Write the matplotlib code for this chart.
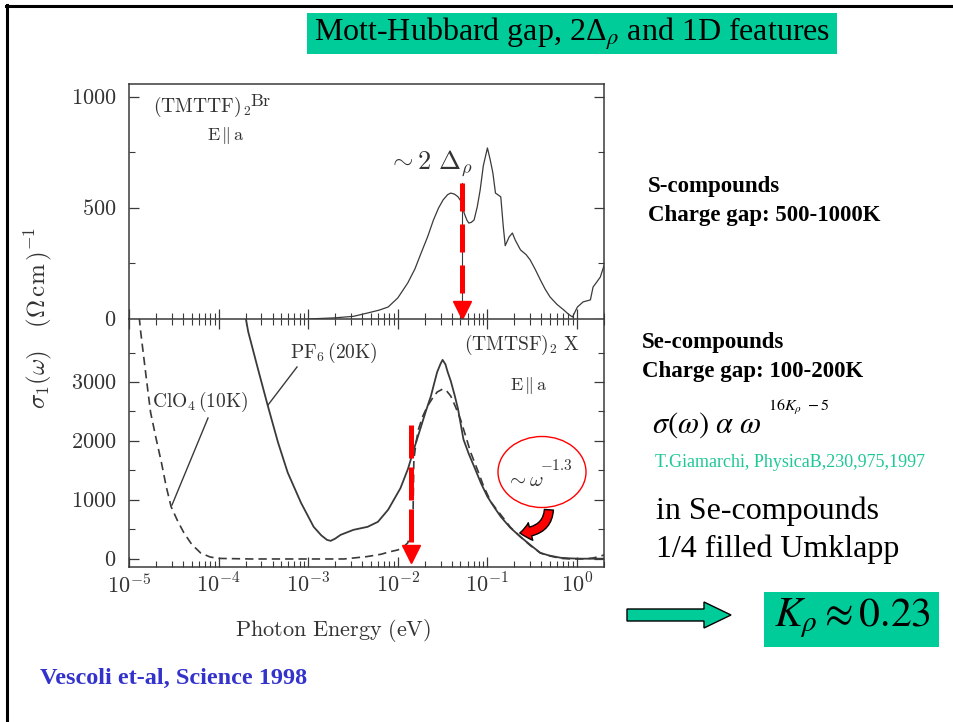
import math

import matplotlib
matplotlib.use("Agg")
import matplotlib.pyplot as plt
from matplotlib.lines import Line2D
from matplotlib.patches import Rectangle, Ellipse, Polygon, FancyArrowPatch
from matplotlib.ticker import (LogLocator, FixedLocator, MultipleLocator, FuncFormatter,
                               NullFormatter)

plt.rcParams['mathtext.fontset'] = 'cm'
plt.rcParams['font.family'] = ['Liberation Serif', 'DejaVu Serif']

# (TMTTF)2Br, E || a : photon energy (eV) / sigma_1 (Ohm cm)^-1
br_energy = [1.0e-3, 1.95e-3, 3.2e-3, 4.6e-3, 6.2e-3, 7.8e-3, 1.0e-2, 1.29e-2, 1.55e-2,
             1.82e-2, 2.15e-2, 2.5e-2, 2.85e-2, 3.2e-2, 3.6e-2, 3.9e-2, 4.3e-2, 4.7e-2,
             5.2e-2, 5.5e-2, 5.9e-2, 6.2e-2, 6.6e-2, 7.1e-2, 7.7e-2, 8.3e-2, 9.0e-2,
             0.100, 0.107, 0.115, 0.123, 0.141, 0.150, 0.158, 0.175, 0.19, 0.204,
             0.234, 0.27, 0.30, 0.34, 0.39, 0.44, 0.50, 0.60, 0.71, 0.80, 0.89,
             1.01, 1.17, 1.41, 1.51, 1.65, 1.82, 2.0]
br_sigma = [0, 5, 12, 27, 40, 54, 95, 162, 225,
            297, 370, 446, 500, 536, 560, 567, 562, 550,
            523, 477, 445, 432, 435, 446, 505, 581, 690,
            770, 720, 658, 567, 550, 420, 330, 370, 387, 356,
            311, 290, 266, 225, 176, 135, 99, 65, 41, 22, 9,
            54, 77, 86, 144, 165, 189, 240]

# (TMTSF)2PF6 at 20K (solid)
pf6_energy = [2.0e-4, 2.14e-4, 2.75e-4, 3.55e-4, 4.6e-4, 5.9e-4, 8.3e-4, 1.15e-3, 1.4e-3,
              1.62e-3, 1.78e-3, 2.0e-3, 2.3e-3, 3.2e-3, 4.6e-3, 6.0e-3, 7.8e-3, 1.07e-2,
              1.3e-2, 1.51e-2, 1.82e-2, 2.05e-2, 2.34e-2, 2.55e-2, 2.75e-2, 3.0e-2,
              3.16e-2, 3.4e-2, 3.6e-2, 3.9e-2, 4.3e-2, 4.7e-2, 5.4e-2, 6.2e-2, 7.1e-2,
              8.5e-2, 0.100, 0.12, 0.141, 0.18, 0.234, 0.30, 0.39, 0.50, 0.66, 0.85,
              1.10, 1.40, 1.70, 2.0]
pf6_sigma = [4100, 3852, 3221, 2590, 1977, 1466, 954, 545, 400,
             324, 307, 345, 409, 494, 545, 630, 835, 1200,
             1530, 1858, 2250, 2500, 2761, 2980, 3170, 3310,
             3375, 3300, 3170, 3017, 2780, 2540, 2028, 1780, 1568,
             1280, 1057, 870, 716, 530, 375, 240, 102, 55, 20, 10,
             5, 5, 5, 5]

# (TMTSF)2ClO4 at 10K (dashed)
clo4_energy = [1.3e-5, 1.35e-5, 1.55e-5, 1.74e-5, 2.0e-5, 2.3e-5, 2.6e-5, 2.95e-5, 3.5e-5,
               4.1e-5, 5.0e-5, 6.3e-5, 8.0e-5, 9.8e-5, 2.3e-4, 8.3e-4, 2.5e-3, 4.5e-3,
               6.5e-3, 8.0e-3, 1.0e-2, 1.15e-2, 1.29e-2, 1.40e-2, 1.48e-2, 1.51e-2,
               1.60e-2, 1.70e-2, 1.9e-2, 2.14e-2, 2.45e-2, 2.75e-2, 3.16e-2, 3.5e-2,
               3.9e-2, 4.4e-2, 5.0e-2, 5.7e-2, 6.5e-2, 7.8e-2, 9.1e-2, 0.11, 0.141,
               0.18, 0.234, 0.30, 0.39, 0.50, 0.66, 0.85, 1.10, 1.30, 1.51, 1.75, 2.0]
clo4_sigma = [4100, 3852, 3100, 2488, 2050, 1636, 1230, 886, 640,
              443, 250, 102, 35, 10, 0, 0, 0, 40,
              80, 120, 153, 200, 272, 450, 784, 1687,
              1980, 2199, 2420, 2590, 2730, 2830, 2880, 2850,
              2761, 2580, 2369, 2090, 1807, 1500, 1227, 960, 750,
              540, 375, 230, 102, 50, 10, 0, 0, 5, 17, 40, 68]

gap_S = 0.052      # 2 Delta_rho marker, sulphur salt
gap_Se = 0.0142    # gap marker, selenium salts

W, H = 954, 722
GREEN = '#00cc99'
INK = '#3a3a3a'
TXT = '#333333'


def fx(px):
    return px / W


def fy(py):
    return 1 - py / H


def box(x0, y0, x1, y1):
    return [fx(x0), fy(y1), (x1 - x0) / W, (y1 - y0) / H]


fig = plt.figure(figsize=(W / 100, H / 100), dpi=100)

# slide frame
fig.add_artist(Line2D([fx(6), 1], [fy(5.5), fy(5.5)], color='black', lw=2.2))
fig.add_artist(Line2D([fx(7.5), fx(7.5)], [fy(5), 0], color='black', lw=2.2))

# title
fig.add_artist(Rectangle((fx(307), fy(54)), fx(837) - fx(307), fy(13) - fy(54),
                         facecolor=GREEN, edgecolor='none'))
fig.text(fx(572), fy(41), r'Mott-Hubbard gap, 2Δ$_{\rho}$ and 1D features',
         fontsize=23, ha='center', va='baseline', math_fontfamily='stix')

ax_top = fig.add_axes(box(129, 84, 604, 319))
ax_bot = fig.add_axes(box(129, 319, 604, 567))

ax_top.plot(br_energy, br_sigma, color=INK, lw=0.9)
ax_bot.plot(pf6_energy, pf6_sigma, color=INK, lw=1.3)
ax_bot.plot(clo4_energy, clo4_sigma, color=INK, lw=1.2, linestyle=(0, (5, 3)))

ax_top.set_ylim(0, 1058)
ax_bot.set_ylim(-136, 4068)

fmt_x = FuncFormatter(lambda v, p: r'$10^{%d}$' % round(math.log10(v)))
fmt_y = FuncFormatter(lambda v, p: r'$%d$' % v)

for ax in (ax_top, ax_bot):
    ax.set_xscale('log')
    ax.set_xlim(1e-5, 2.0)
    ax.xaxis.set_major_locator(LogLocator(base=10, numticks=10))
    ax.xaxis.set_minor_locator(LogLocator(base=10, subs=range(2, 10), numticks=10))
    ax.xaxis.set_minor_formatter(NullFormatter())
    ax.yaxis.set_major_formatter(fmt_y)
    for s in ax.spines.values():
        s.set_color(INK)
        s.set_linewidth(1.1)
    ax.tick_params(which='both', direction='in', color=INK, labelcolor=TXT,
                   labelsize=16, right=True)
    ax.tick_params(which='major', length=7, width=0.9, pad=9)
    ax.tick_params(which='minor', length=4, width=0.8)

ax_top.yaxis.set_major_locator(FixedLocator([0, 500, 1000]))
ax_top.yaxis.set_minor_locator(FixedLocator([250, 750]))
ax_top.tick_params(axis='x', which='both', top=False, labelbottom=False)
ax_top.spines['bottom'].set_visible(False)

ax_bot.yaxis.set_major_locator(FixedLocator([0, 1000, 2000, 3000]))
ax_bot.yaxis.set_minor_locator(FixedLocator([500, 1500, 2500, 3500]))
ax_bot.tick_params(axis='x', which='both', top=True)
ax_bot.tick_params(axis='x', which='major', pad=5)
ax_bot.xaxis.set_major_formatter(fmt_x)
ax_bot.set_xlabel(r'$\mathrm{Photon\ Energy\ (eV)}$', fontsize=16, color=TXT)
ax_bot.xaxis.set_label_coords(0.43, -0.2)

fig.text(fx(38), fy(318), r'$\sigma_1(\omega)\ \ \ (\Omega\,\mathrm{cm}\,)^{-1}$',
         rotation=90, fontsize=18, color=TXT, ha='center', va='center')

# labels inside the panels
fig.text(fx(153), fy(112), r'$(\mathrm{TMTTF})_{\,2}$', fontsize=14,
         color=TXT, ha='left', va='baseline')
fig.text(fx(250), fy(106), r'$\mathrm{Br}$', fontsize=13,
         color=TXT, ha='left', va='baseline')
fig.text(fx(226), fy(136), r'$\mathrm{E}\,\|\,\mathrm{a}$', fontsize=13,
         color=TXT, ha='center', va='center')
fig.text(fx(388), fy(168), r'$\sim 2\ \Delta_{\rho}$', fontsize=19,
         color=TXT, ha='left', va='baseline')
fig.text(fx(290), fy(353), r'$\mathrm{PF}_6\,(20\mathrm{K})$', fontsize=14,
         color=TXT, ha='left', va='center')
fig.text(fx(152), fy(402), r'$\mathrm{ClO}_4\,(10\mathrm{K})$', fontsize=14,
         color=TXT, ha='left', va='center')
fig.text(fx(464), fy(345), r'$(\mathrm{TMTSF})_2\ \mathrm{X}$', fontsize=14,
         color=TXT, ha='left', va='center')
fig.text(fx(529), fy(386), r'$\mathrm{E}\,\|\,\mathrm{a}$', fontsize=13,
         color=TXT, ha='center', va='center')
fig.add_artist(Line2D([fx(297), fx(268)], [fy(367), fy(405)], color=INK, lw=1))
fig.add_artist(Line2D([fx(208), fx(172)], [fy(418), fy(505)], color=INK, lw=1))

# gap markers
ax_top.plot([gap_S, gap_S], [613, 0], color=INK, lw=0.8)
ax_top.plot([gap_S, gap_S], [613, 95], color='red', lw=3.6, linestyle=(0, (5.6, 2.6)),
            dash_capstyle='butt')
ax_top.plot([gap_S], [42], marker='v', ms=13, color='red', clip_on=False)
ax_bot.plot([gap_Se, gap_Se], [2266, 290], color='red', lw=3.6, linestyle=(0, (6.6, 1.8)),
            dash_capstyle='butt')
ax_bot.plot([gap_Se], [85], marker='v', ms=13, color='red', clip_on=False)

# power law tail note
fig.add_artist(Ellipse((fx(542), fy(472)), 88 / W, 71 / H, facecolor='none',
                       edgecolor='red', lw=1))
fig.text(fx(506), fy(486), r'$\sim\omega$', fontsize=15, color=TXT,
         ha='left', va='baseline')
fig.text(fx(540), fy(470), r'$\mathrm{-1.3}$', fontsize=11, color=TXT,
         ha='left', va='baseline')
fig.add_artist(FancyArrowPatch((fx(549), fy(507)), (fx(517), fy(533)),
                               transform=fig.transFigure,
                               connectionstyle='angle3,angleA=90,angleB=0',
                               arrowstyle='simple,head_length=0.6,head_width=1.0,tail_width=0.5',
                               mutation_scale=13, facecolor='red', edgecolor='black', lw=1))

# right hand notes
fig.text(fx(648), fy(192), 'S-compounds', fontsize=16.5, fontweight='bold', va='baseline')
fig.text(fx(648), fy(221), 'Charge gap: 500-1000K', fontsize=16.5, fontweight='bold',
         va='baseline')
fig.text(fx(642), fy(348), 'Se-compounds', fontsize=16.5, fontweight='bold', va='baseline')
fig.text(fx(642), fy(377), 'Charge gap: 100-200K', fontsize=16.5, fontweight='bold',
         va='baseline')
fig.text(fx(652), fy(433), r'$\sigma(\omega)\ \alpha\ \omega$', fontsize=22,
         math_fontfamily='stix', va='baseline')
fig.text(fx(768), fy(411), r'$16K_{\rho}\ -5$', fontsize=11.5, math_fontfamily='stix',
         va='baseline')
fig.text(fx(655), fy(467), 'T.Giamarchi, PhysicaB,230,975,1997', fontsize=13,
         color='#1ec896', va='baseline')
fig.text(fx(656), fy(519), 'in Se-compounds', fontsize=23, va='baseline')
fig.text(fx(656), fy(557), '1/4 filled Umklapp', fontsize=23, va='baseline')

arrow_px = [(627, 609), (704, 609), (704, 602), (731, 615), (704, 628), (704, 621), (627, 621)]
fig.add_artist(Polygon([(fx(x), fy(y)) for x, y in arrow_px], closed=True,
                       facecolor=GREEN, edgecolor='black', lw=1))
fig.add_artist(Rectangle((fx(764), fy(647)), fx(939) - fx(764), fy(592) - fy(647),
                         facecolor=GREEN, edgecolor='none'))
fig.text(fx(852), fy(626), r'$K_{\rho}\approx 0.23$', fontsize=30, math_fontfamily='stix',
         ha='center', va='baseline')

fig.text(fx(40), fy(684), 'Vescoli et-al, Science 1998', fontsize=17.5, fontweight='bold',
         color='#3333cc', va='baseline')

fig.savefig('out.png', dpi=100)
